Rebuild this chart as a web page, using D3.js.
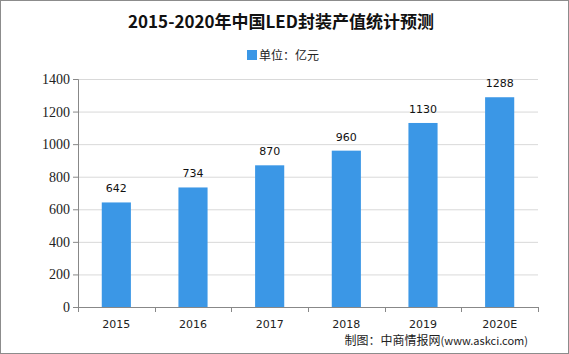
<!DOCTYPE html>
<html>
<head>
<meta charset="utf-8">
<script src="https://cdn.jsdelivr.net/npm/d3@7"></script>
<style>
  body { margin: 0; background: #fff; }
  svg { display: block; }
</style>
</head>
<body>
<svg id="chart"></svg>
<script>
// data
var years = ["2015", "2016", "2017", "2018", "2019", "2020E"];
var values = [642, 734, 870, 960, 1130, 1288];
var yTicks = [0, 200, 400, 600, 800, 1000, 1200, 1400];

var width = 569, height = 354;
var margin = { top: 79, right: 31, bottom: 47, left: 78 };

var svg = d3.select("#chart")
    .attr("width", width)
    .attr("height", height);

// outer frame
svg.append("rect")
    .attr("x", 0.5).attr("y", 0.5)
    .attr("width", width - 1).attr("height", height - 1)
    .attr("fill", "#fff")
    .attr("stroke", "#8c8c8c");

var xScale = d3.scaleBand()
    .domain(years)
    .range([margin.left, width - margin.right])
    .paddingInner(0.62)
    .paddingOuter(0.31);

var yScale = d3.scaleLinear()
    .domain([0, 1400])
    .range([height - margin.bottom, margin.top]);

// gridlines
svg.append("g")
    .attr("class", "grid")
    .attr("transform", "translate(" + margin.left + ",0)")
    .call(d3.axisLeft(yScale)
        .tickValues(yTicks.slice(1))
        .tickSize(-(width - margin.left - margin.right))
        .tickFormat(""))
    .call(g => g.select(".domain").remove())
    .call(g => g.selectAll("line").attr("stroke", "#d9d9d9"));

// y axis
svg.append("g")
    .attr("transform", "translate(" + margin.left + ",0)")
    .attr("font-family", "'Liberation Serif', serif")
    .call(d3.axisLeft(yScale).tickValues(yTicks).tickFormat(d3.format("d")).tickSize(5).tickPadding(3))
    .call(g => g.select(".domain").attr("stroke", "#888"))
    .call(g => g.selectAll("line").attr("stroke", "#888"))
    .call(g => g.selectAll("text")
        .attr("fill", "#222")
        .style("font-family", "'Liberation Serif', serif")
        .style("font-size", "14px"));

// bars
svg.selectAll(".bar")
    .data(values)
    .enter().append("rect")
    .attr("class", "bar")
    .attr("x", (d, i) => xScale(years[i]))
    .attr("y", d => yScale(d))
    .attr("width", xScale.bandwidth())
    .attr("height", d => yScale(0) - yScale(d))
    .attr("fill", "#3b97e6");

// value labels
svg.selectAll(".val")
    .data(values)
    .enter().append("text")
    .attr("class", "val")
    .attr("x", (d, i) => xScale(years[i]) + xScale.bandwidth() / 2)
    .attr("y", d => yScale(d) - 10)
    .attr("text-anchor", "middle")
    .attr("fill", "#111")
    .style("font-family", "'DejaVu Sans', sans-serif")
    .style("font-size", "11px")
    .text(d => d);

// x axis, ticks between bands
var step = xScale.step();
var boundaries = d3.range(years.length + 1).map(i => margin.left + i * step);
var xAxis = svg.append("g");
xAxis.append("line")
    .attr("x1", margin.left).attr("x2", width - margin.right)
    .attr("y1", yScale(0) + 0.5).attr("y2", yScale(0) + 0.5)
    .attr("stroke", "#888");
xAxis.selectAll(".xt")
    .data(boundaries)
    .enter().append("line")
    .attr("x1", d => Math.round(d) + 0.5).attr("x2", d => Math.round(d) + 0.5)
    .attr("y1", yScale(0)).attr("y2", yScale(0) + 5)
    .attr("stroke", "#888");
xAxis.selectAll(".xl")
    .data(years)
    .enter().append("text")
    .attr("x", d => xScale(d) + xScale.bandwidth() / 2)
    .attr("y", yScale(0) + 21)
    .attr("text-anchor", "middle")
    .attr("fill", "#222")
    .style("font-family", "'DejaVu Sans', sans-serif")
    .style("font-size", "11px")
    .text(d => d);

// title
svg.append("text")
    .attr("x", 281)
    .attr("y", 28)
    .attr("text-anchor", "middle")
    .attr("fill", "#111")
    .style("font-family", "'Noto Sans CJK SC', sans-serif")
    .style("font-weight", "bold")
    .style("font-size", "17px")
    .text("2015-2020年中国LED封装产值统计预测");

// legend
svg.append("rect")
    .attr("x", 247).attr("y", 50)
    .attr("width", 10).attr("height", 10)
    .attr("fill", "#3b97e6");
svg.append("text")
    .attr("x", 259).attr("y", 60)
    .attr("fill", "#222")
    .style("font-family", "'Noto Sans CJK SC', sans-serif")
    .style("font-size", "12px")
    .text("单位：亿元");

// source
var src = svg.append("text")
    .attr("x", 528).attr("y", 345)
    .attr("text-anchor", "end")
    .attr("fill", "#222")
    .style("font-family", "'Noto Sans CJK SC', sans-serif")
    .style("font-size", "12px");
src.append("tspan").text("制图：中商情报网");
src.append("tspan").style("font-size", "11px").text("(www.askci.com)");
</script>
</body>
</html>
